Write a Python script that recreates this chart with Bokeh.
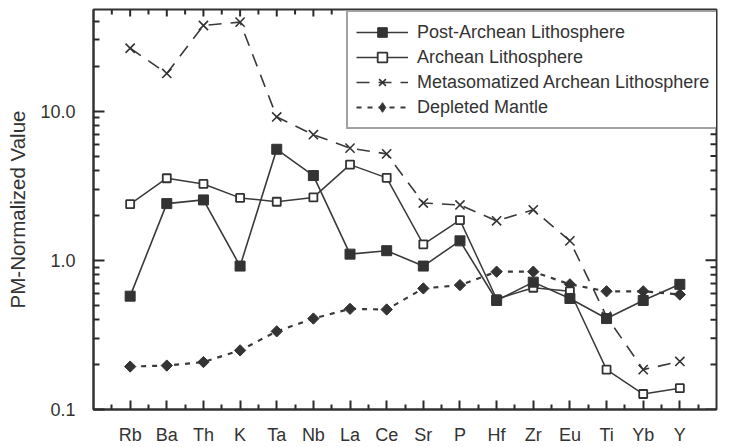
import math
from bokeh.plotting import figure
from bokeh.models import (FixedTicker, CustomJSTickFormatter, Range1d, Legend,
                          LegendItem, ColumnDataSource)
from bokeh.embed import file_html
from bokeh.resources import INLINE

# ---- data ----
elements = ["Rb", "Ba", "Th", "K", "Ta", "Nb", "La", "Ce", "Sr", "P",
            "Hf", "Zr", "Eu", "Ti", "Yb", "Y"]
post_archean = [0.575, 2.40, 2.54, 0.915, 5.55, 3.70, 1.10, 1.16, 0.915, 1.35,
                0.538, 0.714, 0.555, 0.407, 0.538, 0.69]
archean = [2.38, 3.55, 3.25, 2.62, 2.47, 2.64, 4.38, 3.57, 1.28, 1.86,
           0.55, 0.655, 0.62, 0.185, 0.127, 0.139]
metasomatized = [26.4, 17.9, 37.5, 39.5, 9.14, 6.95, 5.65, 5.17, 2.42, 2.35,
                 1.84, 2.18, 1.35, 0.42, 0.185, 0.21]
depleted = [0.194, 0.197, 0.208, 0.249, 0.334, 0.407, 0.473, 0.468, 0.648, 0.682,
            0.839, 0.839, 0.69, 0.62, 0.62, 0.59]
y_major = [0.1, 1.0, 10.0]
y_minor = [0.2, 0.3, 0.4, 0.5, 0.6, 0.7, 0.8, 0.9,
           2, 3, 4, 5, 6, 7, 8, 9, 20, 30, 40]
labels = ["Post-Archean Lithosphere", "Archean Lithosphere",
          "Metasomatized Archean Lithosphere", "Depleted Mantle"]

FONT = "Liberation Sans"
INK = "#333333"
TICK = "#2a2a2a"
LINE = "#3a3a3a"

W, H = 748, 447
BL, BR, BT, BB = 93, 32, 9, 37
X0, X1 = -1, len(elements)
Y0, Y1 = 0.1, 48.0

xs = list(range(len(elements)))
src = ColumnDataSource(dict(x=xs, pa=post_archean, ar=archean,
                            me=metasomatized, dm=depleted))

p = figure(width=W, height=H, y_axis_type="log",
           x_range=Range1d(X0, X1), y_range=Range1d(Y0, Y1),
           output_backend="svg", toolbar_location=None,
           min_border_left=BL, min_border_right=BR, min_border_top=BT,
           min_border_bottom=BB)
p.outline_line_color = INK
p.outline_line_width = 2
p.grid.grid_line_color = None

x_minor = [i - 0.5 for i in range(len(elements) + 1)]

# bottom axis
xa = p.xaxis[0]
xa.ticker = FixedTicker(ticks=xs, minor_ticks=x_minor)
xa.formatter = CustomJSTickFormatter(args=dict(labels=elements),
                                     code="return labels[Math.round(tick)] || '';")
xa.axis_line_color = INK
xa.axis_line_width = 2
xa.major_tick_in = 9
xa.major_tick_out = 0
xa.minor_tick_in = 5
xa.minor_tick_out = 0
xa.major_tick_line_color = TICK
xa.minor_tick_line_color = TICK
xa.major_tick_line_width = 2
xa.minor_tick_line_width = 2
xa.major_label_text_font = FONT
xa.major_label_text_color = INK
xa.major_label_text_font_size = "18px"
xa.major_label_standoff = 15

# left axis
ya = p.yaxis[0]
ya.ticker = FixedTicker(ticks=y_major, minor_ticks=y_minor)
ya.formatter = CustomJSTickFormatter(code="return tick.toFixed(1);")
ya.axis_line_color = INK
ya.axis_line_width = 2
ya.major_tick_in = 11
ya.major_tick_out = 0
ya.minor_tick_in = 6
ya.minor_tick_out = 0
ya.major_tick_line_color = TICK
ya.minor_tick_line_color = TICK
ya.major_tick_line_width = 2
ya.minor_tick_line_width = 2
ya.major_label_text_font = FONT
ya.major_label_text_color = INK
ya.major_label_text_font_size = "18px"
ya.major_label_standoff = 18
ya.axis_label = "PM-Normalized Value"
ya.axis_label_text_font = FONT
ya.axis_label_text_font_size = "20.5px"
ya.axis_label_text_font_style = "normal"
ya.axis_label_text_color = INK
ya.axis_label_standoff = 8

# top and right inward ticks, placed through the plot's scales
fw = W - BL - BR
fh = H - BT - BB
ppu = fw / (X1 - X0)
ppd = fh / (math.log10(Y1) - math.log10(Y0))
tx = xs + x_minor
tlen = [7] * len(xs) + [5] * len(x_minor)
top_src = ColumnDataSource(dict(x0=tx, x1=tx, y0=[Y1] * len(tx),
                                y1=[Y1 / 10 ** (l / ppd) for l in tlen]))
p.segment(x0="x0", x1="x1", y0="y0", y1="y1", source=top_src,
          line_color=TICK, line_width=2)
yv = y_major + y_minor
ylen = [11] * len(y_major) + [6] * len(y_minor)
right_src = ColumnDataSource(dict(x0=[X1] * len(yv), x1=[X1 - l / ppu for l in ylen],
                                  y0=yv, y1=yv))
p.segment(x0="x0", x1="x1", y0="y0", y1="y1", source=right_src,
          line_color=TICK, line_width=2)

# series
me_l = p.line("x", "me", source=src, line_color=LINE, line_width=1.6, line_dash="13 9")
me_s = p.scatter("x", "me", source=src, marker="x", size=13, line_color=INK, line_width=1.6)
dm_l = p.line("x", "dm", source=src, line_color=LINE, line_width=2.2, line_dash="5 6")
dm_key = p.scatter("x", "dm", source=src, marker="diamond", size=9,
                   fill_color=INK, line_color=INK, line_width=1)
dm_s = p.scatter("x", "dm", source=src, marker="square", angle=0.785398, size=8,
                 fill_color=INK, line_color=INK, line_width=1)
ar_l = p.line("x", "ar", source=src, line_color=LINE, line_width=1.5)
ar_s = p.scatter("x", "ar", source=src, marker="square", size=8, fill_color="white",
                 line_color=INK, line_width=1.8)
pa_l = p.line("x", "pa", source=src, line_color=LINE, line_width=1.6)
pa_s = p.scatter("x", "pa", source=src, marker="square", size=10, fill_color=INK,
                 line_color=INK, line_width=1)

legend = Legend(items=[
    LegendItem(label=labels[0], renderers=[pa_l, pa_s]),
    LegendItem(label=labels[1], renderers=[ar_l, ar_s]),
    LegendItem(label=labels[2], renderers=[me_l, me_s]),
    LegendItem(label=labels[3], renderers=[dm_l, dm_key]),
], location=(253, 280))
legend.label_text_font = FONT
legend.label_text_font_size = "18px"
legend.label_text_color = INK
legend.glyph_width = 52
legend.glyph_height = 24
legend.label_height = 24
legend.label_width = 310
legend.label_standoff = 9
legend.spacing = 1
legend.padding = 8
legend.margin = 0
legend.border_line_color = "#444444"
legend.border_line_width = 2
legend.background_fill_color = "white"
legend.background_fill_alpha = 1.0
p.add_layout(legend, "center")

open("out.html", "w").write(file_html(p, INLINE))
